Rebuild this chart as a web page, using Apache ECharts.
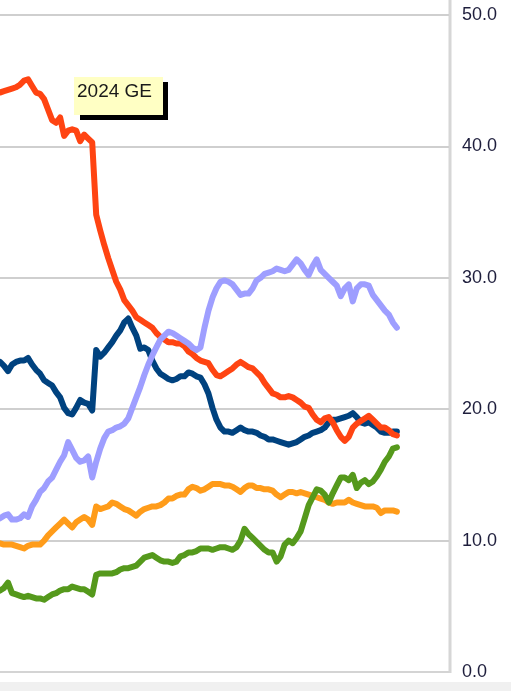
<!DOCTYPE html>
<html><head><meta charset="utf-8">
<script src="https://cdn.jsdelivr.net/npm/echarts@6/dist/echarts.min.js"></script>
<style>html,body{margin:0;padding:0;background:#fff}#c{width:511px;height:691px}</style>
</head><body><div id="c"></div>
<script>
// Poll share (%) — weekly points, latest on the right
const weekCount = 113;
const weeks = Array.from({length: weekCount}, (_, i) => 'W' + (i + 1));
const yTicks = [0, 10, 20, 30, 40, 50];
const annotationText = '2024 GE';

const redSeries = [44.1,44.2,44.3,44.4,44.5,44.7,45.0,45.1,44.6,44.1,44.0,43.6,42.8,42.0,41.8,42.2,40.8,41.2,41.3,41.2,
40.4,40.9,40.6,40.3,34.8,33.6,32.5,31.5,30.6,29.7,29.1,28.3,27.9,27.5,27.0,26.8,26.6,26.4,26.2,25.8,
25.5,25.3,25.1,25.1,25.0,25.0,24.8,24.4,24.2,23.9,23.7,23.6,23.5,23.0,22.6,22.5,22.7,22.9,23.1,23.4,
23.6,23.4,23.2,23.1,22.8,22.5,22.0,21.6,21.2,21.1,20.9,20.9,21.0,20.9,20.7,20.5,20.2,20.1,19.6,19.2,
19.0,19.3,19.4,19.0,18.4,17.9,17.6,17.9,18.6,18.9,19.1,19.3,19.5,19.2,18.9,18.6,18.6,18.4,18.1,18.0];

const navySeries = [23.6,23.3,22.9,23.4,23.6,23.7,23.7,23.9,23.4,23.0,22.7,22.2,22.0,21.8,21.3,20.9,20.1,19.7,19.6,20.1,
20.7,20.5,20.4,19.9,24.5,24.0,24.3,24.7,25.1,25.6,26.0,26.6,26.9,26.2,25.6,24.6,24.7,24.5,23.7,23.1,
22.7,22.5,22.3,22.2,22.3,22.5,22.5,22.8,22.7,22.5,22.4,21.9,21.2,20.1,19.2,18.6,18.3,18.3,18.2,18.4,
18.6,18.4,18.3,18.3,18.2,18.0,17.9,17.7,17.7,17.6,17.5,17.4,17.3,17.4,17.5,17.7,17.9,18.0,18.2,18.3,
18.4,18.6,19.0,19.2,19.2,19.3,19.4,19.5,19.7,19.4,19.0,18.9,19.0,18.8,18.6,18.3,18.2,18.2,18.3,18.3];

const lavenderSeries = [11.7,11.9,12.0,11.6,11.6,11.7,12.0,11.8,12.6,13.1,13.7,14.0,14.5,14.8,15.4,16.0,16.5,17.5,16.9,16.3,
16.0,16.1,16.4,14.8,16.0,17.0,17.8,18.3,18.4,18.6,18.7,18.9,19.3,20.1,20.9,21.7,22.6,23.4,24.1,24.7,
25.3,25.6,25.9,25.8,25.6,25.4,25.2,25.0,24.7,24.5,24.7,26.2,27.5,28.5,29.2,29.7,29.8,29.7,29.5,29.1,
28.7,28.8,28.8,29.2,29.8,30.0,30.3,30.4,30.5,30.7,30.6,30.5,30.6,31.0,31.4,31.1,30.6,30.2,30.9,31.4,
30.6,30.3,30.0,29.7,29.4,28.6,29.2,29.5,28.2,29.2,29.5,29.5,29.4,28.7,28.3,27.9,27.5,27.2,26.6,26.2];

const orangeSeries = [9.8,9.7,9.7,9.7,9.6,9.5,9.4,9.6,9.7,9.7,9.7,10.0,10.4,10.7,11.0,11.3,11.6,11.3,11.0,11.4,
11.6,11.8,11.6,11.2,12.6,12.4,12.5,12.6,12.9,12.8,12.6,12.4,12.3,12.1,11.9,12.2,12.4,12.5,12.6,12.6,
12.7,12.9,13.2,13.2,13.4,13.5,13.5,13.9,14.1,14.0,13.8,13.9,14.1,14.3,14.3,14.3,14.2,14.2,14.1,13.9,
13.7,14.0,14.2,14.2,14.0,14.0,13.9,13.9,13.8,13.5,13.3,13.5,13.7,13.7,13.6,13.7,13.6,13.5,13.4,13.3,
13.2,13.1,12.9,12.8,12.9,12.9,12.9,13.1,12.9,12.8,12.7,12.6,12.6,12.6,12.5,12.1,12.3,12.3,12.3,12.2];

const greenSeries = [6.2,6.4,6.8,6.0,5.9,5.8,5.7,5.8,5.7,5.6,5.6,5.5,5.7,5.9,6.0,6.2,6.3,6.3,6.5,6.4,
6.3,6.3,6.1,5.9,7.4,7.5,7.5,7.5,7.5,7.6,7.8,7.9,7.9,8.0,8.1,8.4,8.7,8.8,8.9,8.7,
8.5,8.4,8.4,8.3,8.4,8.8,8.9,9.1,9.1,9.2,9.4,9.4,9.4,9.3,9.4,9.5,9.5,9.4,9.3,9.5,
10.0,10.9,10.5,10.2,9.9,9.6,9.3,9.1,9.1,8.4,8.8,9.7,10.0,9.8,10.2,10.7,11.7,12.7,13.3,13.9,
13.8,13.5,12.9,13.6,14.2,14.8,14.8,14.6,15.0,14.0,14.4,14.6,14.3,14.5,14.9,15.4,16.0,16.4,17.0,17.1];

const chart = echarts.init(document.getElementById('c'), null, {renderer: 'canvas'});
const mk = (name, data, color, z) => ({
  name, type: 'line', data, showSymbol: false, symbol: 'none', z,
  lineStyle: {color, width: 6, cap: 'round', join: 'round'}, itemStyle: {color}
});
chart.setOption({
  animation: false,
  backgroundColor: '#ffffff',
  grid: {left: 0, right: 62, top: 15, bottom: 19, containLabel: false},
  xAxis: {
    type: 'category', data: weeks, boundaryGap: false,
    axisLine: {show: true, lineStyle: {color: '#d4d4d4', width: 2}},
    axisTick: {show: false}, axisLabel: {show: false}, splitLine: {show: false}
  },
  yAxis: {
    type: 'value', position: 'right', min: yTicks[0], max: yTicks[yTicks.length - 1], interval: 10,
    axisLine: {show: false}, axisTick: {show: false},
    axisLabel: {margin: 13, color: '#1e1e3c', fontSize: 18, fontFamily: 'Liberation Sans, Arial, sans-serif',
      formatter: v => v.toFixed(1)},
    splitLine: {lineStyle: {color: '#cfcfcf', width: 2}}
  },
  series: [
    mk('Orange', orangeSeries, '#ff9c1a', 2),
    mk('Navy', navySeries, '#00427f', 3),
    mk('Red', redSeries, '#ff4412', 4),
    mk('Green', greenSeries, '#55991c', 5),
    mk('Lavender', lavenderSeries, '#9e9eff', 6)
  ],
  graphic: [
    {type: 'rect', shape: {x: 0, y: 682, width: 511, height: 9}, style: {fill: '#f0f0f0'}, silent: true},
    {type: 'line', shape: {x1: 450, y1: 0, x2: 450, y2: 673}, style: {stroke: '#d6d6d6', lineWidth: 3}, silent: true},
    {type: 'rect', shape: {x: 80, y: 82, width: 88, height: 38}, style: {fill: '#000000'}, z: 100},
    {type: 'rect', shape: {x: 74, y: 77, width: 89, height: 38}, style: {fill: '#ffffc4'}, z: 101},
    {type: 'text', x: 77, y: 82, z: 102,
      style: {text: annotationText, fill: '#1a1a1a', font: '19px "Liberation Sans", Arial, sans-serif'}}
  ]
});
</script></body></html>
